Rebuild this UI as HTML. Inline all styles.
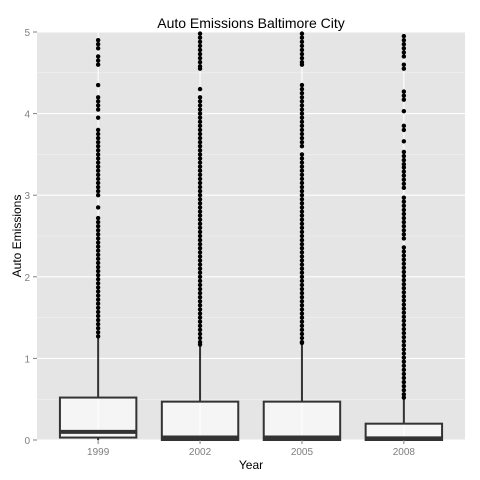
<!DOCTYPE html>
<html><head><meta charset="utf-8"><style>
body{margin:0;background:#fff;}
svg{display:block;font-family:"Liberation Sans",Arial,sans-serif;}
</style></head><body>
<svg id="chart" width="480" height="480">
<rect x="0" y="0" width="480" height="480" fill="#fff"/>
<text x="251" y="28" font-size="14" text-anchor="middle" fill="#000">Auto Emissions Baltimore City</text>
<rect x="37" y="32" width="428" height="408" fill="#e5e5e5"/>
<g id="grid"></g><g id="boxes"></g><g id="axes"></g>
<text x="251" y="469" font-size="12" text-anchor="middle" fill="#000">Year</text>
<text transform="translate(21,236) rotate(-90)" font-size="12" text-anchor="middle" fill="#000">Auto Emissions</text>
</svg>
<script>
const categories=["1999","2002","2005","2008"];
const lowerWhisker=[0,0,0,0];
const q1=[0.03,0,0,0];
const medians=[0.1,0.03,0.03,0.02];
const q3=[0.52,0.47,0.47,0.2];
const upperWhisker=[1.25,1.15,1.17,0.5];
const yTicks=[0,1,2,3,4,5];
const out1999=[4.9,4.85,4.8,4.7,4.65,4.6,4.35,4.2,4.15,4.1,4.05,3.95,3.8,3.75,3.7,3.65,3.6,3.55,3.5,3.45,3.4,3.35,3.3,3.25,3.2,3.15,3.1,3.05,3.0,2.85,2.72,2.67,2.62,2.57,2.52,2.47,2.42,2.37,2.32,2.27,2.22,2.17,2.12,2.07,2.02,1.97,1.92,1.87,1.82,1.77,1.72,1.67,1.62,1.57,1.52,1.47,1.42,1.37,1.32,1.27];
const out2002=[4.98,4.93,4.88,4.83,4.78,4.73,4.68,4.63,4.58,4.55,4.3,4.2,4.15,4.1,4.05,4.0,3.95,3.9,3.85,3.8,3.75,3.7,3.65,3.6,3.55,3.5,3.45,3.4,3.35,3.3,3.25,3.2,3.15,3.1,3.05,3.0,2.95,2.9,2.85,2.8,2.75,2.7,2.65,2.6,2.55,2.5,2.45,2.4,2.35,2.3,2.25,2.2,2.15,2.1,2.05,2.0,1.95,1.9,1.85,1.8,1.75,1.7,1.65,1.6,1.55,1.5,1.45,1.4,1.35,1.3,1.25,1.2,1.17];
const out2005=[4.98,4.93,4.88,4.83,4.78,4.73,4.68,4.63,4.6,4.35,4.3,4.25,4.2,4.15,4.1,4.05,4.0,3.95,3.9,3.85,3.8,3.75,3.7,3.65,3.6,3.5,3.45,3.4,3.35,3.3,3.25,3.2,3.15,3.1,3.05,3.0,2.95,2.9,2.85,2.8,2.75,2.7,2.65,2.6,2.55,2.5,2.45,2.4,2.35,2.3,2.25,2.2,2.15,2.1,2.05,2.0,1.95,1.9,1.85,1.8,1.75,1.7,1.65,1.6,1.55,1.5,1.45,1.4,1.35,1.3,1.25,1.2,1.19];
const out2008=[4.95,4.9,4.85,4.8,4.75,4.7,4.6,4.55,4.27,4.22,4.17,4.03,3.85,3.8,3.66,3.53,3.48,3.43,3.38,3.34,3.29,3.24,3.19,3.14,3.09,2.97,2.92,2.87,2.82,2.77,2.72,2.67,2.62,2.57,2.52,2.47,2.36,2.31,2.26,2.21,2.16,2.11,2.06,2.01,1.96,1.91,1.86,1.81,1.76,1.71,1.66,1.61,1.56,1.51,1.46,1.41,1.36,1.31,1.26,1.21,1.16,1.11,1.06,1.01,0.96,0.91,0.86,0.81,0.76,0.71,0.66,0.61,0.56,0.52];
const outliers=[out1999,out2002,out2005,out2008];

const NS="http://www.w3.org/2000/svg";
const pTop=32,pBottom=440,pLeft=37,pRight=465;
function yScale(v){return pBottom-(v/5)*(pBottom-pTop);}
function xScale(i){return pLeft+(i+0.6)*((pRight-pLeft)/4.2);}
const band=(pRight-pLeft)/4.2;
function mk(tag,attrs,parent){const e=document.createElementNS(NS,tag);for(const k in attrs)e.setAttribute(k,attrs[k]);parent.appendChild(e);return e;}
const grid=document.getElementById('grid'),boxes=document.getElementById('boxes'),axes=document.getElementById('axes');
for(let i=0;i<yTicks.length-1;i++){
  const mv=(yTicks[i]+yTicks[i+1])/2;
  const m=mk('line',{x1:pLeft,x2:pRight,y1:yScale(mv),y2:yScale(mv),stroke:'#f2f2f2','stroke-width':0.6},grid);
  
  
}
yTicks.forEach(t=>{
  const g=mk('line',{x1:pLeft,x2:pRight,y1:yScale(t),y2:yScale(t),stroke:'#fff','stroke-width':1.1},grid);
  
  
  const tk=mk('line',{x1:pLeft-4,x2:pLeft,y1:yScale(t),y2:yScale(t),stroke:'#7f7f7f','stroke-width':1},axes);
  
  
  const lb=mk('text',{x:pLeft-7,y:yScale(t)+4,'font-size':10,'text-anchor':'end',fill:'#7f7f7f'},axes);
  lb.textContent=t;
  
  
});
categories.forEach((c,i)=>{
  const cx=xScale(i);
  const vg=mk('line',{x1:cx,x2:cx,y1:pTop,y2:pBottom,stroke:'#fff','stroke-width':1.1},grid);
  
  
  const tk=mk('line',{x1:cx,x2:cx,y1:pBottom,y2:pBottom+4,stroke:'#7f7f7f','stroke-width':1},axes);
  
  
  const lb=mk('text',{x:cx,y:pBottom+15,'font-size':10,'text-anchor':'middle',fill:'#7f7f7f'},axes);
  lb.textContent=c;
  
  
  const g=mk('g',{},boxes);
  
  
  const w=band*0.75/2;
  const wl=mk('line',{x1:cx,x2:cx,y1:yScale(q3[i]),y2:yScale(upperWhisker[i]),stroke:'#333','stroke-width':2},g);
  
  
  const wl2=mk('line',{x1:cx,x2:cx,y1:yScale(q1[i]),y2:yScale(lowerWhisker[i]),stroke:'#333','stroke-width':2},g);
  
  
  const r=mk('rect',{x:cx-w,y:yScale(q3[i]),width:2*w,height:yScale(q1[i])-yScale(q3[i]),fill:'rgba(255,255,255,0.6)',stroke:'#333','stroke-width':2},g);
  
  
  const md=mk('line',{x1:cx-w,x2:cx+w,y1:yScale(medians[i]),y2:yScale(medians[i]),stroke:'#333','stroke-width':4},g);
  
  
  outliers[i].forEach(v=>{
    const p=mk('circle',{cx:cx,cy:yScale(v),r:2.2,fill:'#000'},g);
    
    
  });
});
</script>
</body></html>
